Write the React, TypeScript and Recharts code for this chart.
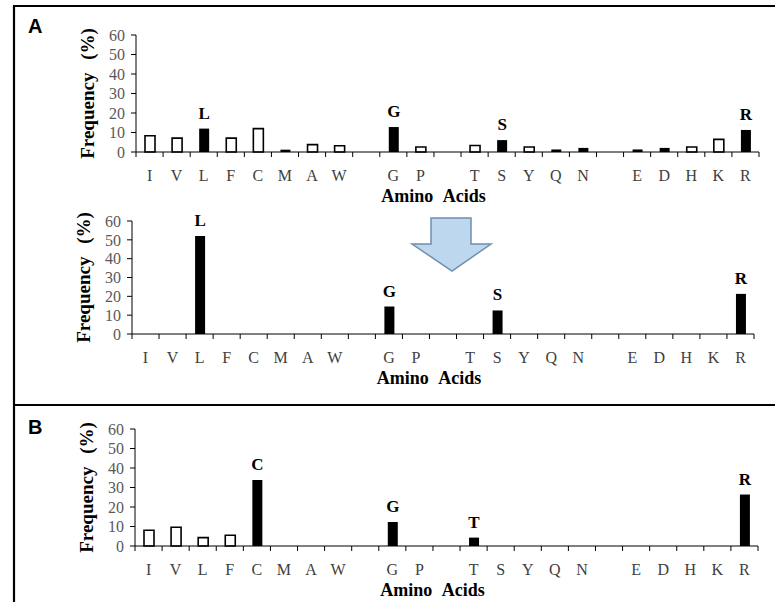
import React from 'react';
import { BarChart, Bar, XAxis, YAxis, Cell, LabelList } from 'recharts';

// amino acid order on the x axis, '' = empty slot between groups
const categories = ['I', 'V', 'L', 'F', 'C', 'M', 'A', 'W', '', 'G', 'P', '', 'T', 'S', 'Y', 'Q', 'N', '', 'E', 'D', 'H', 'K', 'R'];

// panel A, before selection
const freqA1 = [8.3, 7.1, 12, 7.1, 12, 1.2, 3.8, 3.2, null, 12.8, 2.6, null, 3.3, 6.1, 2.6, 1.3, 2.1, null, 1.3, 2.1, 2.6, 6.5, 11.3];
const filledA1 = [0, 0, 1, 0, 0, 1, 0, 0, 0, 1, 0, 0, 0, 1, 0, 1, 1, 0, 1, 1, 0, 0, 1];
const labelsA1 = ['', '', 'L', '', '', '', '', '', '', 'G', '', '', '', 'S', '', '', '', '', '', '', '', '', 'R'];

// panel A, after selection
const freqA2 = [0, 0, 52, 0, 0, 0, 0, 0, null, 14.6, 0, null, 0, 12.5, 0, 0, 0, null, 0, 0, 0, 0, 21.3];
const filledA2 = [1, 1, 1, 1, 1, 1, 1, 1, 1, 1, 1, 1, 1, 1, 1, 1, 1, 1, 1, 1, 1, 1, 1];
const labelsA2 = ['', '', 'L', '', '', '', '', '', '', 'G', '', '', '', 'S', '', '', '', '', '', '', '', '', 'R'];

// panel B
const freqB = [8.1, 9.6, 4.3, 5.5, 33.8, 0, 0, 0, null, 12.3, 0, null, 4.3, 0, 0, 0, 0, null, 0, 0, 0, 0, 26.4];
const filledB = [0, 0, 0, 0, 1, 1, 1, 1, 1, 1, 1, 1, 1, 1, 1, 1, 1, 1, 1, 1, 1, 1, 1];
const labelsB = ['', '', '', '', 'C', '', '', '', '', 'G', '', '', 'T', '', '', '', '', '', '', '', '', '', 'R'];

const yTicks = [0, 10, 20, 30, 40, 50, 60];

const serif = '"Liberation Serif", "Times New Roman", serif';

function CatTick(props: any) {
  const { x, y, index, bw, count } = props;
  return (
    <g>
      <line x1={x - bw / 2} x2={x - bw / 2} y1={y} y2={y + 5} stroke="#000" />
      {index === count - 1 && <line x1={x + bw / 2} x2={x + bw / 2} y1={y} y2={y + 5} stroke="#000" />}
      <text x={x} y={y + 29} textAnchor="middle" style={{ fontFamily: serif, fontSize: 16 }} fill="#404040">
        {categories[index]}
      </text>
    </g>
  );
}

interface PanelProps {
  values: (number | null)[];
  filled: number[];
  labels: string[];
  plotLeft: number;
  plotRight: number;
  plotTop: number;
  plotBottom: number;
}

function Panel({ values, filled, labels, plotLeft, plotRight, plotTop, plotBottom }: PanelProps) {
  const axisH = 52;
  const data = categories.map((c, i) => ({ name: c, value: values[i], mark: labels[i] }));
  const bw = (plotRight - plotLeft) / categories.length;
  const mid = (plotLeft + plotRight) / 2;
  return (
    <div style={{ position: 'absolute', left: 0, top: 0 }}>
      <BarChart
        width={775}
        height={plotBottom + axisH + 12}
        data={data}
        margin={{ top: plotTop, left: plotLeft - 40, right: 775 - plotRight, bottom: 12 }}
        barSize={10}
      >
        <XAxis
          height={axisH}
          interval={0}
          tickSize={0}
          tickMargin={0}
          axisLine={{ stroke: '#000' }}
          tickLine={false}
          tick={<CatTick bw={bw} count={categories.length} />}
          label={{
            content: () => (
              <text x={mid - 14} y={plotBottom + 50} textAnchor="middle" style={{ fontFamily: serif, fontSize: 18, fontWeight: 'bold', wordSpacing: 6 }} fill="#000">
                Amino Acids
              </text>
            ),
          }}
        />
        <YAxis
          width={40}
          domain={[0, 60]}
          ticks={yTicks}
          interval={0}
          tickSize={5}
          tickMargin={6}
          axisLine={{ stroke: '#000' }}
          tickLine={{ stroke: '#000' }}
          tick={{ fill: '#595959', fontSize: 16, style: { fontFamily: serif } }}
          label={{
            content: () => {
              const cx = plotLeft - 49;
              const cy = (plotTop + plotBottom) / 2;
              return (
                <text x={cx} y={cy} transform={`rotate(-90, ${cx}, ${cy})`} textAnchor="middle" dominantBaseline="central" style={{ fontFamily: serif, fontSize: 19, fontWeight: 'bold', wordSpacing: 8 }} fill="#000">
                  Frequency (%)
                </text>
              );
            },
          }}
        />
        <Bar dataKey="value" isAnimationActive={false}>
          {data.map((d, i) => (
            <Cell
              key={i}
              fill={filled[i] ? '#000' : '#fff'}
              stroke={filled[i] ? 'none' : '#000'}
              strokeWidth={1.6}
            />
          ))}
          <LabelList
            dataKey="mark"
            content={(p: any) => {
              if (!p.value) return null;
              return (
                <text x={p.x + p.width / 2} y={p.y - 10} textAnchor="middle" style={{ fontFamily: serif, fontSize: 17, fontWeight: 'bold' }} fill="#000">
                  {p.value}
                </text>
              );
            }}
          />
        </Bar>
      </BarChart>
    </div>
  );
}

export default function App() {
  return (
    <div style={{ position: 'absolute', left: 0, top: 0, width: 775, height: 602, background: '#fff', overflow: 'hidden' }}>
      <svg width={775} height={602} style={{ position: 'absolute', left: 0, top: 0 }}>
        <line x1={13} x2={775} y1={6} y2={6} stroke="#000" strokeWidth={2.2} />
        <line x1={14} x2={14} y1={5} y2={602} stroke="#000" strokeWidth={2.2} />
        <line x1={14} x2={775} y1={405} y2={405} stroke="#000" strokeWidth={2.2} />
        <text x={28} y={33} style={{ fontFamily: '"Liberation Sans", Arial, sans-serif', fontSize: 20, fontWeight: 'bold' }} fill="#000">A</text>
        <text x={28} y={434} style={{ fontFamily: '"Liberation Sans", Arial, sans-serif', fontSize: 20, fontWeight: 'bold' }} fill="#000">B</text>
        <polygon
          points="431,218 471,218 471,244 491,244 452,271 412,244 431,244"
          fill="#bdd7ee"
          stroke="#6f8fad"
          strokeWidth={1.5}
        />
      </svg>
      <Panel values={freqA1} filled={filledA1} labels={labelsA1} plotLeft={136} plotRight={759} plotTop={35} plotBottom={152} />
      <Panel values={freqA2} filled={filledA2} labels={labelsA2} plotLeft={132} plotRight={754} plotTop={221} plotBottom={334} />
      <Panel values={freqB} filled={filledB} labels={labelsB} plotLeft={135} plotRight={758} plotTop={429} plotBottom={546} />
    </div>
  );
}
